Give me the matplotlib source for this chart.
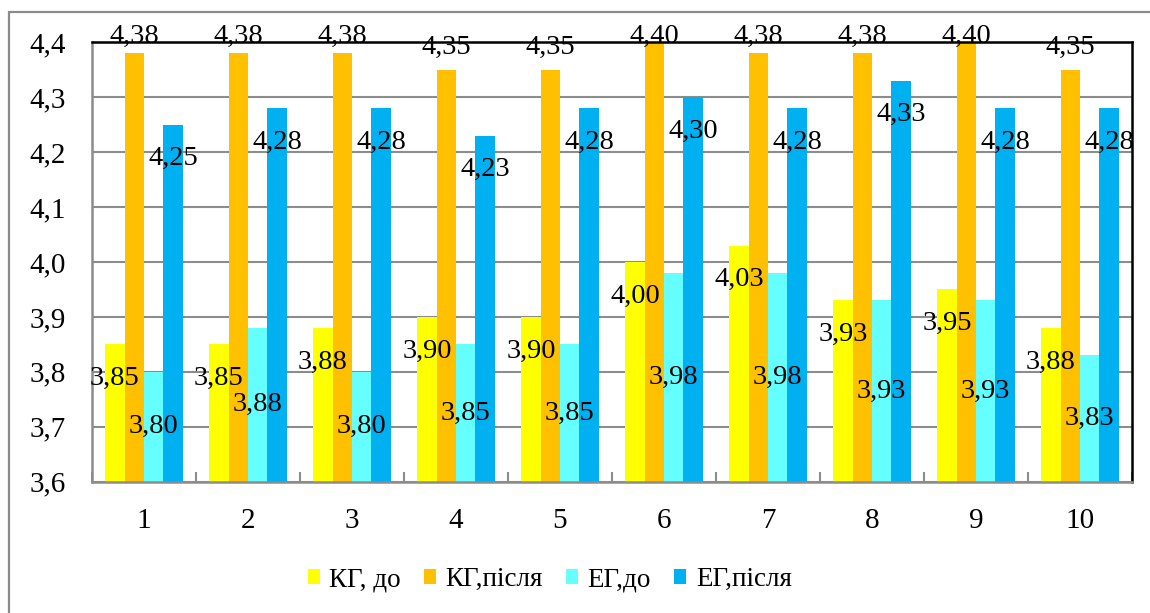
import matplotlib
matplotlib.use("Agg")
import matplotlib.pyplot as plt
import numpy as np
from matplotlib.patches import Rectangle

# Average scores per item (1..10) for control and experimental groups
categories = ["1", "2", "3", "4", "5", "6", "7", "8", "9", "10"]
kg_before = [3.85, 3.85, 3.88, 3.90, 3.90, 4.00, 4.03, 3.93, 3.95, 3.88]
kg_after = [4.38, 4.38, 4.38, 4.35, 4.35, 4.40, 4.38, 4.38, 4.40, 4.35]
eg_before = [3.80, 3.88, 3.80, 3.85, 3.85, 3.98, 3.98, 3.93, 3.93, 3.83]
eg_after = [4.25, 4.28, 4.28, 4.23, 4.28, 4.30, 4.28, 4.33, 4.28, 4.28]
series_names = ["КГ, до", "КГ,після", "ЕГ,до", "ЕГ,після"]
y_ticks = [3.6, 3.7, 3.8, 3.9, 4.0, 4.1, 4.2, 4.3, 4.4]

colors = ["#FFFF00", "#FFC000", "#66FFFF", "#00B0F0"]
grid_gray = "#8C8C8C"

plt.rcParams["font.family"] = ["Liberation Serif", "DejaVu Serif"]

fig = plt.figure(figsize=(11.5, 6.13), dpi=100)
ax = fig.add_axes([0.080, 0.2142, 0.9043, 0.7168])

# Outer chart-area frame
fig.patches.append(Rectangle((9 / 1150, -0.05), 1.2, 0.9804 + 0.05,
                             transform=fig.transFigure, fill=False,
                             edgecolor="#8A8A8A", linewidth=1.6))

x = np.arange(len(categories))
bar_w = 0.186
series = [kg_before, kg_after, eg_before, eg_after]
offsets = [-1.5, -0.5, 0.5, 1.5]

ymin, ymax = 3.6, 4.4

for vals, off, col in zip(series, offsets, colors):
    ax.bar(x + off * bar_w, np.array(vals) - ymin, bar_w, bottom=ymin,
           color=col, edgecolor="none", zorder=2)


def fmt(v):
    return f"{v:.2f}".replace(".", ",")


label_fs = 20.5
for i in range(len(categories)):
    # КГ, до: near the inner end
    v = kg_before[i]
    ax.text(x[i] + offsets[0] * bar_w, v - 0.062, fmt(v), ha="center",
            va="center", fontsize=label_fs, zorder=5)
    # КГ,після: above the bar, kept near the top edge
    v = kg_after[i]
    ax.text(x[i] + offsets[1] * bar_w, min(v + 0.04, 4.41), fmt(v),
            ha="center", va="center", fontsize=label_fs, zorder=5)
    # ЕГ,до: centred in the bar
    v = eg_before[i]
    ax.text(x[i] + offsets[2] * bar_w, (v + ymin) / 2, fmt(v), ha="center",
            va="center", fontsize=label_fs, zorder=5)
    # ЕГ,після: near the inner end
    v = eg_after[i]
    ax.text(x[i] + offsets[3] * bar_w, v - 0.062, fmt(v), ha="center",
            va="center", fontsize=label_fs, zorder=5)

ax.set_xlim(-0.5, len(categories) - 0.5)
ax.set_ylim(ymin, ymax)
ax.set_yticks(y_ticks)
ax.set_yticklabels([f"{t:.1f}".replace(".", ",") for t in y_ticks])
ax.set_xticks(x)
ax.set_xticklabels(categories)
ax.set_xticks(np.arange(len(categories) + 1) - 0.5, minor=True)

ax.tick_params(axis="y", length=0, pad=19, labelsize=21)
ax.tick_params(axis="x", which="major", length=0, pad=19, labelsize=21)
ax.tick_params(axis="x", which="minor", direction="in", length=7,
               width=1.5, color=grid_gray)

ax.yaxis.grid(True, color=grid_gray, linewidth=1.5)
ax.set_axisbelow(True)

ax.spines["left"].set_color(grid_gray)
ax.spines["bottom"].set_color(grid_gray)
ax.spines["left"].set_linewidth(1.8)
ax.spines["bottom"].set_linewidth(1.8)
ax.spines["top"].set_color("black")
ax.spines["right"].set_color("black")
ax.spines["top"].set_linewidth(1.8)
ax.spines["right"].set_linewidth(1.8)

handles = [Rectangle((0, 0), 1, 1, facecolor=c, edgecolor="none") for c in colors]
fig.legend(handles, series_names, loc="center", ncol=4, frameon=False,
           bbox_to_anchor=(0.478, 0.054), fontsize=19.5,
           handlelength=0.45, handleheight=0.45, handletextpad=0.35,
           columnspacing=0.85)

fig.savefig("out.png", dpi=100)
